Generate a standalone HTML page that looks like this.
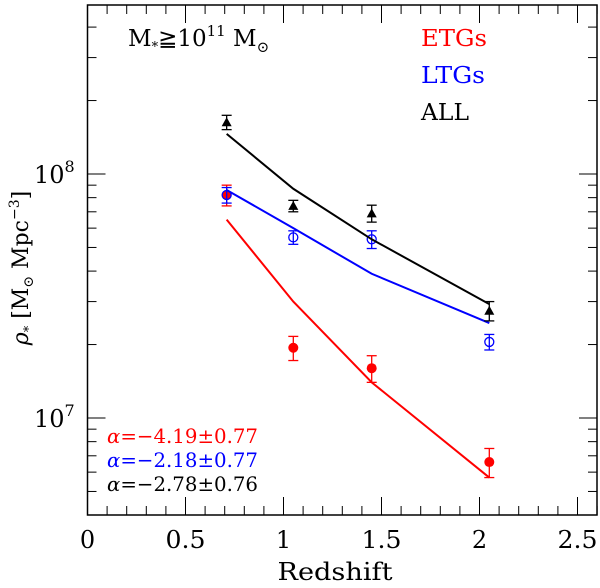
<!DOCTYPE html>
<html><head><meta charset="utf-8"><style>
body{margin:0;background:#fff}
svg text{font-family:"DejaVu Serif","Liberation Serif",serif}
</style></head><body>
<svg id="c" width="600" height="583" viewBox="0 0 600 583" xmlns="http://www.w3.org/2000/svg"></svg>
<script>
const redshifts=[0.71,1.05,1.45,2.05];
const allPts=[1.63e8,7.4e7,6.9e7,2.75e7];
const allErr=[0.11e8,0.4e7,0.55e7,0.25e7];
const allLine=[1.46e8,8.7e7,5.4e7,2.93e7];
const ltgPts=[8.2e7,5.5e7,5.4e7,2.05e7];
const ltgErr=[0.6e7,0.35e7,0.45e7,0.15e7];
const ltgLine=[8.6e7,6.0e7,3.9e7,2.45e7];
const etgPts=[8.2e7,1.94e7,1.6e7,6.6e6];
const etgErr=[0.8e7,0.22e7,0.2e7,0.9e6];
const etgLine=[6.5e7,3.0e7,1.4e7,5.7e6];
const xTicks=[0,0.5,1,1.5,2,2.5];
const xTickLabels=["0","0.5","1","1.5","2","2.5"];

const L=87.5,R=597,T=5,B=515;
const X=z=>L+z*196;
const Y=v=>174-(Math.log10(v)-8)*244;
const s=document.getElementById('c');
const NS='http://www.w3.org/2000/svg';
function el(t,a,p){const e=document.createElementNS(NS,t);for(const k in a)e.setAttribute(k,a[k]);(p||s).appendChild(e);return e;}

let fr=el('rect',{x:L,y:T,width:R-L,height:B-T,fill:'none',stroke:'#000','stroke-width':1.5});


for(let i=1;i<=26;i++){const z=i/10,x=X(z),len=(i%5==0)?18:9;
 el('line',{x1:x,y1:B,x2:x,y2:B-len,stroke:'#000','stroke-width':1});
 el('line',{x1:x,y1:T,x2:x,y2:T+len,stroke:'#000','stroke-width':1});}
xTicks.forEach((z,i)=>{const t=el('text',{x:X(z),y:548,'font-size':24,'text-anchor':'middle'});t.textContent=xTickLabels[i];
 if(xTickLabels[i].length==3){t.setAttribute('textLength',40);t.setAttribute('lengthAdjust','spacingAndGlyphs');}
 });
for(let d=6;d<=8;d++)for(let m=1;m<=9;m++){const v=m*Math.pow(10,d),y=Y(v);if(y<T||y>B)continue;const len=m==1?18:9;
 el('line',{x1:L,y1:y,x2:L+len,y2:y,stroke:'#000','stroke-width':1});
 el('line',{x1:R,y1:y,x2:R-len,y2:y,stroke:'#000','stroke-width':1});}
[8,7].forEach(d=>{const t=el('text',{x:34,y:Y(Math.pow(10,d))+9,'font-size':24});t.textContent='10';
 const sp=el('tspan',{dy:-11,'font-size':16},t);sp.textContent=String(d);
 });

let xl=el('text',{x:335,y:580,'font-size':24,'text-anchor':'middle',textLength:115,lengthAdjust:'spacingAndGlyphs'});xl.textContent='Redshift';

let yl=el('text',{x:0,y:0,'font-size':22,'text-anchor':'middle',transform:'translate(28,268) rotate(-90)'});
yl.innerHTML='<tspan font-style="italic">ρ</tspan><tspan font-size="13" dy="5">*</tspan><tspan dy="-5"> [M</tspan><tspan font-size="14" dy="5">⊙</tspan><tspan dy="-5"> Mpc</tspan><tspan font-size="14" dy="-9">−3</tspan><tspan dy="9">]</tspan>';


function series(vals,line,err,col,kind,name){
 const pl=el('polyline',{points:redshifts.map((z,i)=>X(z)+','+Y(line[i])).join(' '),fill:'none',stroke:col,'stroke-width':2});
 
 redshifts.forEach((z,i)=>{const x=X(z),y=Y(vals[i]),y1=Y(vals[i]+err[i]),y2=Y(vals[i]-err[i]);
  const g=el('g',{});
  el('line',{x1:x,y1:y1,x2:x,y2:y2,stroke:col,'stroke-width':1.3},g);
  el('line',{x1:x-5,y1:y1,x2:x+5,y2:y1,stroke:col,'stroke-width':1.3},g);
  el('line',{x1:x-5,y1:y2,x2:x+5,y2:y2,stroke:col,'stroke-width':1.3},g);
  if(kind=='tri')el('polygon',{points:`${x},${y-5} ${x-5},${y+4} ${x+5},${y+4}`,fill:col},g);
  else if(kind=='open')el('circle',{cx:x,cy:y,r:4.5,fill:'none',stroke:col,'stroke-width':1.3},g);
  else el('circle',{cx:x,cy:y,r:5,fill:col},g);});
}
series(etgPts,etgLine,etgErr,'#f00','dot','etg');
series(ltgPts,ltgLine,ltgErr,'#00f','open','ltg');
series(allPts,allLine,allErr,'#000','tri','all');

function txt(x,y,str,col,size,name,len){const t=el('text',{x:x,y:y,'font-size':size,fill:col});t.innerHTML=str;
 if(len){t.setAttribute('textLength',len);t.setAttribute('lengthAdjust','spacingAndGlyphs');}
 return t;}
txt(128,46,'M<tspan font-size="13" dy="5">*</tspan><tspan dy="-5">≧10</tspan><tspan font-size="15" dy="-10">11</tspan><tspan dy="10"> M</tspan><tspan font-size="15" dy="6">⊙</tspan>','#000',23,'mass-cut-label');
txt(421,46,'ETGs','#f00',23,'legend-etgs',66);
txt(421,83,'LTGs','#00f',23,'legend-ltgs',64);
txt(421,120,'ALL','#000',23,'legend-all',48);
txt(107,443,'<tspan font-style="italic">α</tspan>=−4.19±0.77','#f00',20,'alpha-etgs',151);
txt(107,467,'<tspan font-style="italic">α</tspan>=−2.18±0.77','#00f',20,'alpha-ltgs',151);
txt(107,491,'<tspan font-style="italic">α</tspan>=−2.78±0.76','#000',20,'alpha-all',151);
</script>
</body></html>
